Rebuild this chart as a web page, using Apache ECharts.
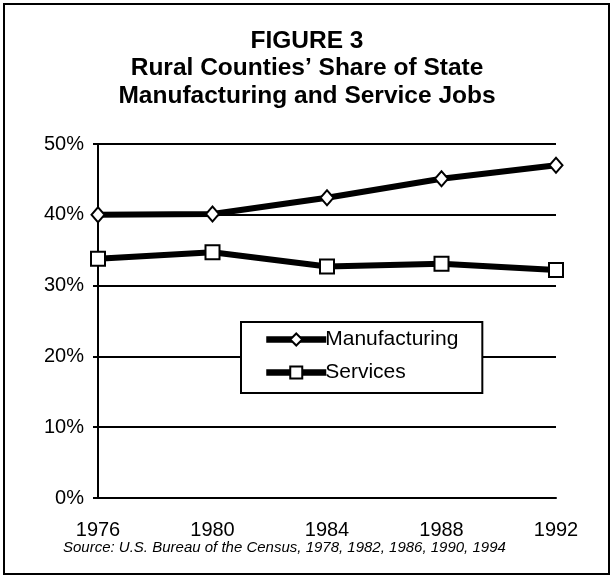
<!DOCTYPE html>
<html>
<head>
<meta charset="utf-8">
<script src="https://cdn.jsdelivr.net/npm/echarts@6/dist/echarts.min.js"></script>
<style>
html,body{margin:0;padding:0;background:#fff;}
#chart{width:614px;height:578px;}
</style>
</head>
<body>
<div id="chart"></div>
<script>
const years = ['1976', '1980', '1984', '1988', '1992'];
const manufacturing = [40.0, 40.1, 42.4, 45.1, 47.0];
const services = [33.8, 34.7, 32.7, 33.1, 32.2];
const titleLines = ['FIGURE 3', 'Rural Counties’ Share of State', 'Manufacturing and Service Jobs'];
const sourceNote = 'Source: U.S. Bureau of the Census, 1978, 1982, 1986, 1990, 1994';

const FONT = '"Liberation Sans", Arial, Helvetica, sans-serif';
const chart = echarts.init(document.getElementById('chart'));
chart.setOption({
  backgroundColor: '#fff',
  animation: false,
  title: {
    text: titleLines.join('\n'),
    left: 'center',
    top: 22,
    textStyle: { fontFamily: FONT, fontSize: 24.5, fontWeight: 'bold', color: '#000', lineHeight: 27.5 }
  },
  grid: { left: 98, right: 58, top: 144, bottom: 80, containLabel: false },
  legend: {
    orient: 'vertical',
    left: 241,
    top: 322,
    backgroundColor: '#fff',
    borderColor: '#000',
    borderWidth: 2,
    padding: [7, 24, 10, 22],
    itemWidth: 60,
    itemHeight: 15,
    itemGap: 12,
    lineStyle: { width: 6.5, color: '#000' },
    textStyle: { fontFamily: FONT, fontSize: 21, color: '#000', padding: [0, 0, 0, -6] },
    data: ['Manufacturing', 'Services']
  },
  xAxis: {
    type: 'category',
    data: years,
    boundaryGap: false,
    axisLine: { show: true, lineStyle: { color: '#000', width: 2 } },
    axisTick: { show: false },
    axisLabel: { fontFamily: FONT, fontSize: 20, color: '#000', margin: 22 },
    splitLine: { show: false }
  },
  yAxis: {
    type: 'value',
    min: 0,
    max: 50,
    interval: 10,
    axisLine: { show: true, lineStyle: { color: '#000', width: 2 } },
    axisTick: { show: true, length: 5, lineStyle: { color: '#000', width: 2 } },
    axisLabel: { fontFamily: FONT, fontSize: 20, color: '#000', margin: 14, formatter: '{value}%' },
    splitLine: { show: true, lineStyle: { color: '#000', width: 2 } }
  },
  series: [
    {
      name: 'Manufacturing',
      type: 'line',
      data: manufacturing,
      symbol: 'diamond',
      symbolSize: [13, 15],
      lineStyle: { color: '#000', width: 6 },
      itemStyle: { color: '#fff', borderColor: '#000', borderWidth: 2 },
      z: 3
    },
    {
      name: 'Services',
      type: 'line',
      data: services,
      symbol: 'rect',
      symbolSize: 14,
      lineStyle: { color: '#000', width: 6 },
      itemStyle: { color: '#fff', borderColor: '#000', borderWidth: 2 },
      z: 3
    }
  ],
  graphic: [
    {
      type: 'rect',
      shape: { x: 4, y: 4, width: 605, height: 570 },
      style: { fill: 'none', stroke: '#000', lineWidth: 2 },
      silent: true
    },
    {
      type: 'text',
      left: 63,
      top: 540,
      style: { text: sourceNote, font: 'italic 15px ' + FONT, fill: '#000' }
    }
  ]
});
</script>
</body>
</html>
